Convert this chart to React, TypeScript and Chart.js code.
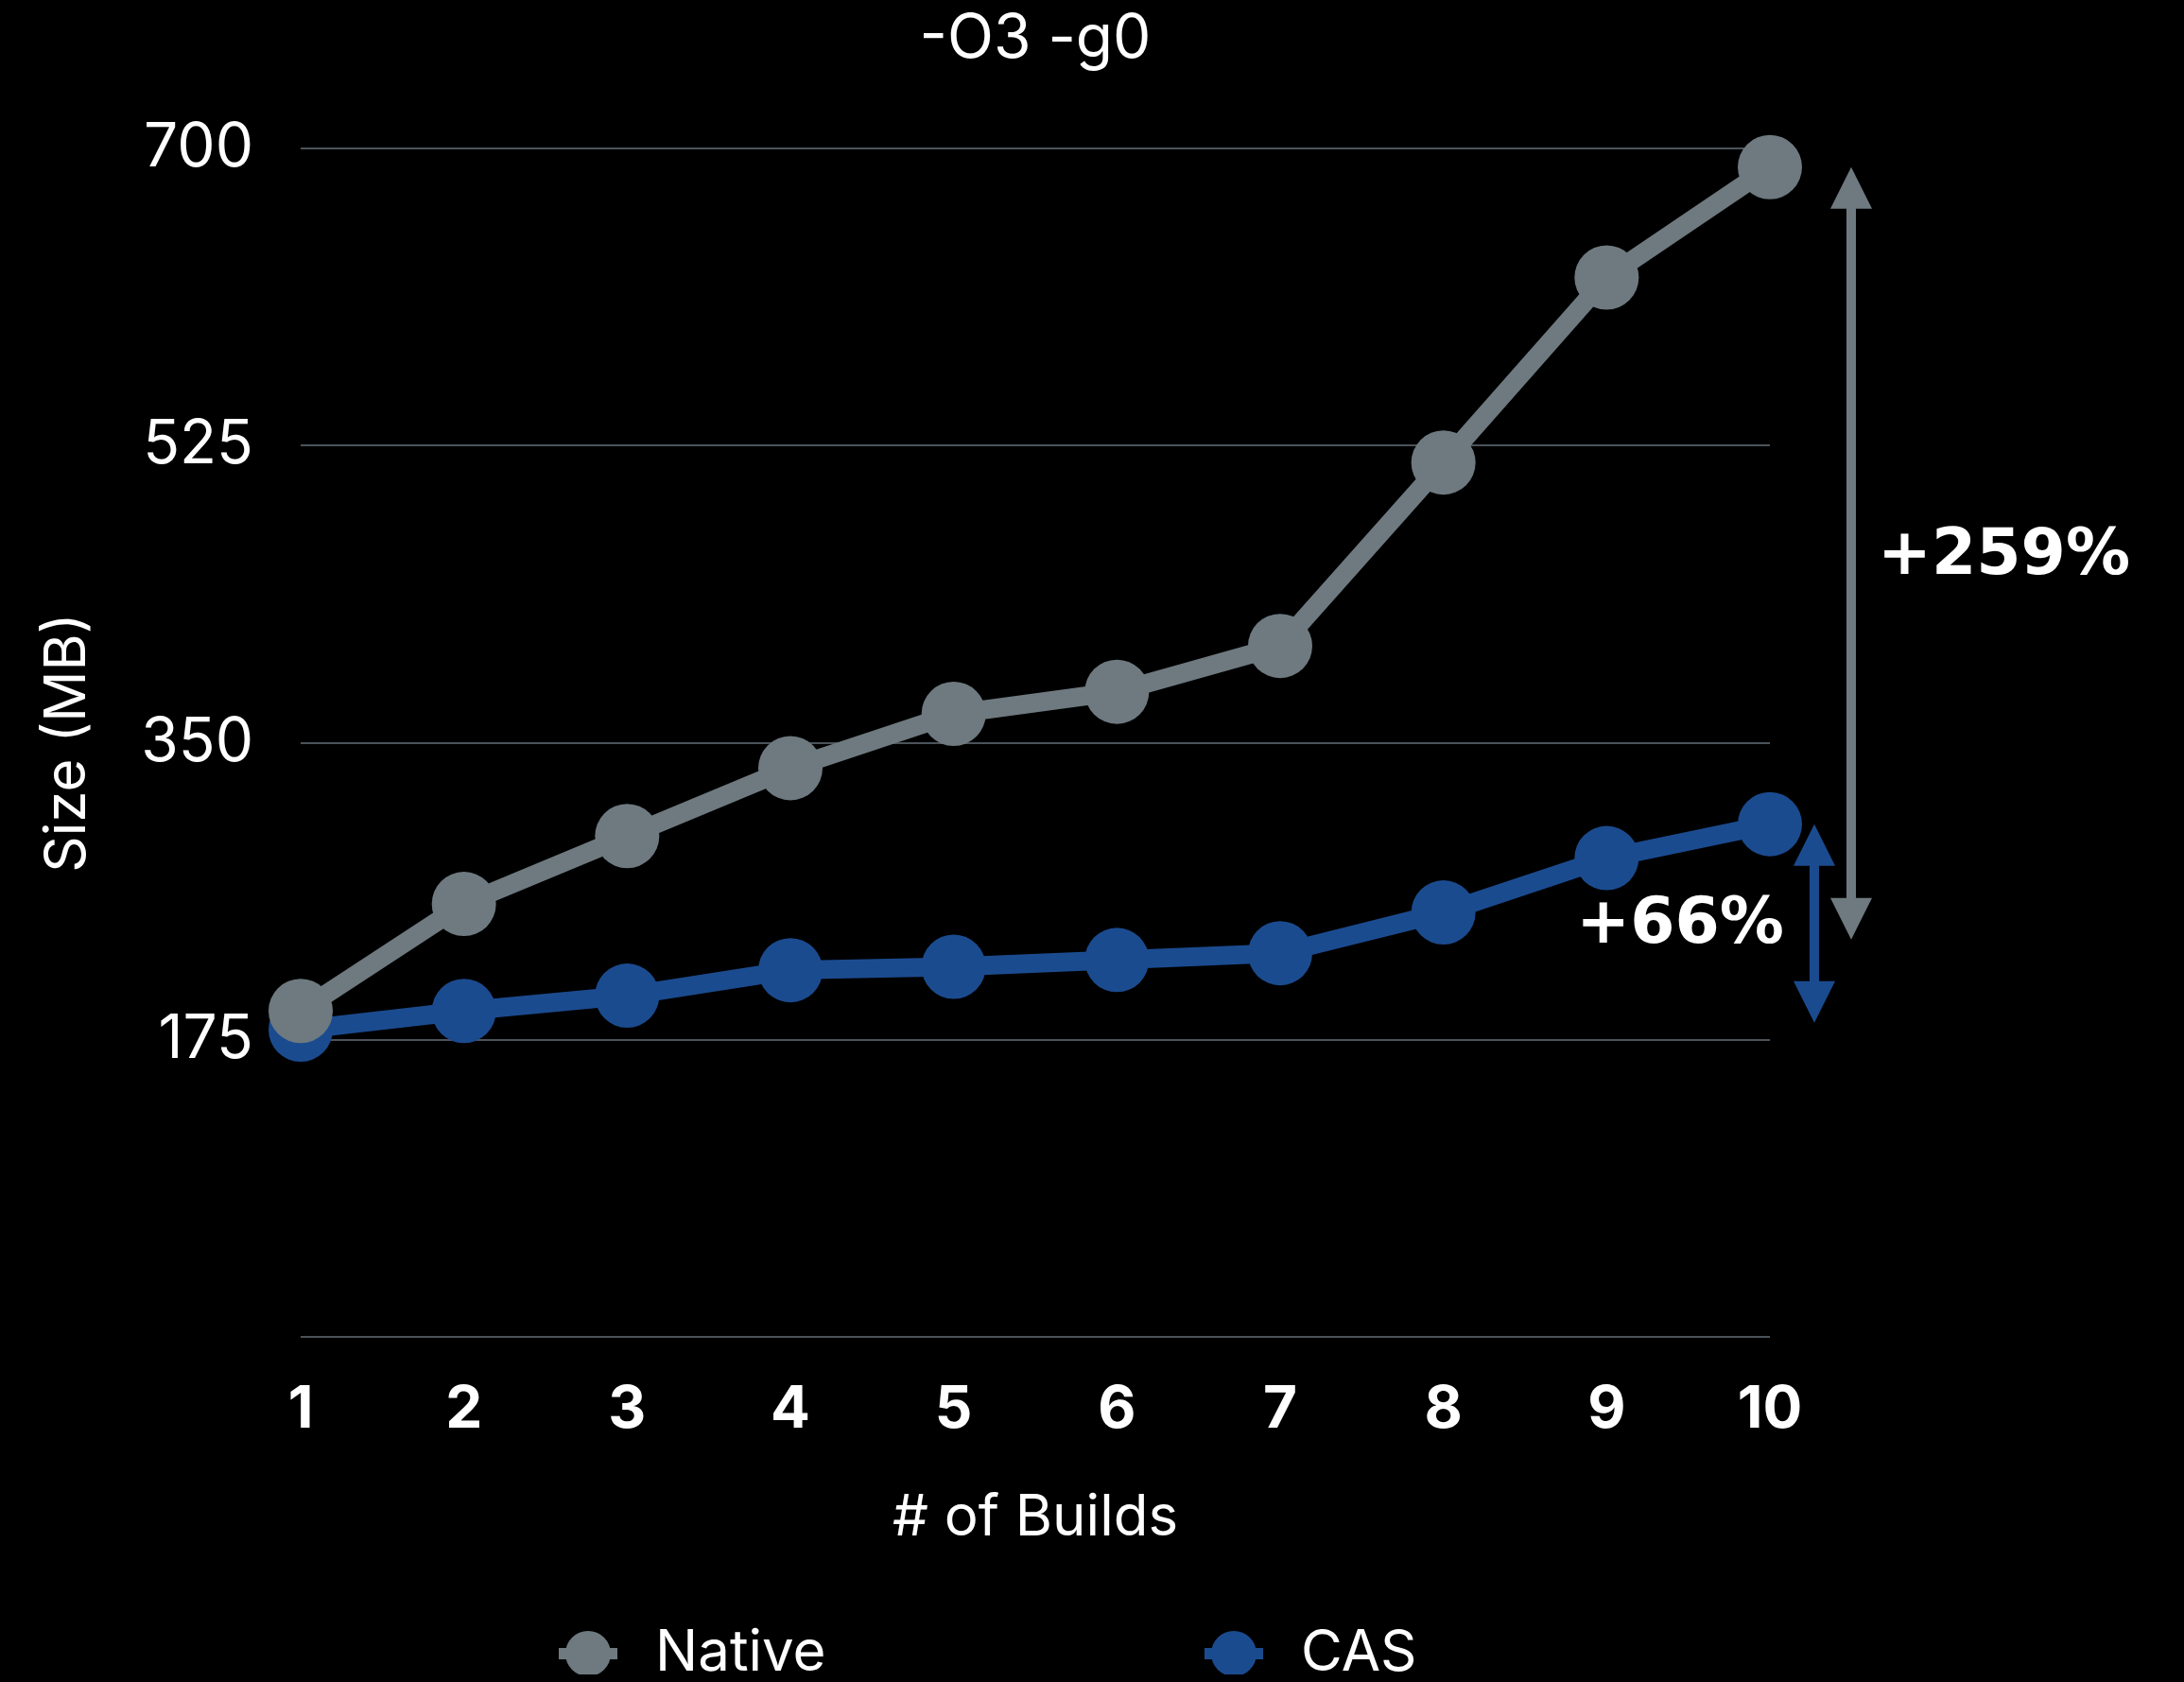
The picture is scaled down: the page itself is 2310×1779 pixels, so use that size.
import React, { useEffect, useRef } from 'react';
import { Chart, registerables } from 'chart.js';

Chart.register(...registerables);

// ---- data ----
const builds = ['1', '2', '3', '4', '5', '6', '7', '8', '9', '10'];
const nativeSizes = [192, 255, 295, 335, 367, 380, 407, 515, 624, 689];
const casSizes = [181, 192, 201, 216, 218, 222, 226, 250, 282, 302];
const seriesNames = ['Native', 'CAS'];
const seriesColors = ['#6e7a80', '#1b4b8f'];
const yTickValues = [0, 175, 350, 525, 700];

// growth annotations (arrow from -> to, in MB)
const growthFrom = [234, 185];
const growthTo = [689, 302];
const growthLabels = ['+259%', '+66%'];

const W = 2294;
const H = 1763;

const annotationPlugin = {
  id: 'growthArrows',
  afterDatasetsDraw(chart: any) {
    const { ctx, chartArea, scales } = chart;
    const y = scales.y;
    const arrowX = [chartArea.right + 86, chartArea.right + 47];
    const labelY = [459, 242];
    growthFrom.forEach((from, i) => {
      const x = arrowX[i];
      const yTop = y.getPixelForValue(growthTo[i]);
      const yBot = y.getPixelForValue(from);
      const hh = 44;
      const hw = 22;
      ctx.save();
      ctx.fillStyle = seriesColors[i];
      ctx.strokeStyle = seriesColors[i];
      ctx.lineWidth = 10;
      ctx.beginPath();
      ctx.moveTo(x, yTop + hh - 1);
      ctx.lineTo(x, yBot - hh + 1);
      ctx.stroke();
      ctx.beginPath();
      ctx.moveTo(x, yTop);
      ctx.lineTo(x - hw, yTop + hh);
      ctx.lineTo(x + hw, yTop + hh);
      ctx.closePath();
      ctx.fill();
      ctx.beginPath();
      ctx.moveTo(x, yBot);
      ctx.lineTo(x - hw, yBot - hh);
      ctx.lineTo(x + hw, yBot - hh);
      ctx.closePath();
      ctx.fill();

      ctx.fillStyle = '#ffffff';
      ctx.font = 'bold 68px "DejaVu Sans"';
      ctx.textBaseline = 'middle';
      if (i === 0) {
        ctx.textAlign = 'left';
        ctx.fillText(growthLabels[i], chartArea.right + 114, y.getPixelForValue(labelY[i]));
      } else {
        ctx.textAlign = 'right';
        ctx.fillText(growthLabels[i], chartArea.right + 15, y.getPixelForValue(labelY[i]));
      }
      ctx.restore();
    });
  },
};

const legendPlugin = {
  id: 'customLegend',
  afterDraw(chart: any) {
    const ctx = chart.ctx;
    const ly = 1741;
    const xs = [614, 1297];
    chart.data.datasets.forEach((ds: any, i: number) => {
      const x = xs[i];
      ctx.save();
      ctx.strokeStyle = ds.borderColor;
      ctx.lineWidth = 12;
      ctx.beginPath();
      ctx.moveTo(x - 31, ly);
      ctx.lineTo(x + 31, ly);
      ctx.stroke();
      ctx.fillStyle = ds.borderColor;
      ctx.beginPath();
      ctx.arc(x, ly, 24, 0, Math.PI * 2);
      ctx.fill();
      ctx.fillStyle = '#ffffff';
      ctx.font = '60px Inter';
      ctx.textAlign = 'left';
      ctx.textBaseline = 'middle';
      ctx.fillText(ds.label, x + 71, ly);
      ctx.restore();
    });
  },
};

export default function App() {
  const canvasRef = useRef<HTMLCanvasElement | null>(null);

  useEffect(() => {
    document.body.style.backgroundColor = '#000';
    let chart: Chart | null = null;
    let cancelled = false;
    const fontsReady = (document as any).fonts
      ? Promise.all([
          (document as any).fonts.load('64px Inter'),
          (document as any).fonts.load('bold 62px Inter'),
          (document as any).fonts.load('bold 68px "DejaVu Sans"'),
        ]).catch(() => null)
      : Promise.resolve(null);

    fontsReady.then(() => {
      if (cancelled || !canvasRef.current) return;
      chart = new Chart(canvasRef.current, {
        type: 'line',
        data: {
          labels: builds,
          datasets: [
            {
              label: seriesNames[0],
              data: nativeSizes,
              borderColor: seriesColors[0],
              backgroundColor: seriesColors[0],
              pointBackgroundColor: seriesColors[0],
              borderWidth: 20,
              pointRadius: 34,
              pointHoverRadius: 34,
              pointBorderWidth: 0,
              tension: 0,
              clip: false as any,
            },
            {
              label: seriesNames[1],
              data: casSizes,
              borderColor: seriesColors[1],
              backgroundColor: seriesColors[1],
              pointBackgroundColor: seriesColors[1],
              borderWidth: 20,
              pointRadius: 34,
              pointHoverRadius: 34,
              pointBorderWidth: 0,
              tension: 0,
              clip: false as any,
            },
          ],
        },
        options: {
          animation: false,
          responsive: false,
          events: [],
          layout: { padding: { top: 0, right: 430, bottom: 129, left: 0 } },
          plugins: {
            legend: { display: false },
            tooltip: { enabled: false },
            title: {
              display: true,
              text: '-O3 -g0',
              color: '#ffffff',
              fullSize: false,
              font: { family: 'Inter', size: 64, weight: 'normal', lineHeight: 1 },
              padding: { top: 2, bottom: 83 },
            },
          },
          scales: {
            x: {
              type: 'category',
              offset: false,
              grid: { display: false, drawTicks: false },
              border: { display: false },
              ticks: {
                color: '#ffffff',
                font: { family: 'Inter', size: 62, weight: 'bold' },
                padding: 40,
                maxRotation: 0,
                autoSkip: false,
              },
              title: {
                display: true,
                text: '# of Builds',
                color: '#ffffff',
                font: { family: 'Inter', size: 60, weight: 'normal' },
                padding: { top: 0, bottom: 0 },
              },
              afterFit: (s: any) => {
                s.height = 228;
              },
            },
            y: {
              min: yTickValues[0],
              max: yTickValues[yTickValues.length - 1],
              afterBuildTicks: (s: any) => {
                s.ticks = yTickValues.map((v) => ({ value: v }));
              },
              ticks: {
                color: '#ffffff',
                font: { family: 'Inter', size: 64, weight: 'normal' },
                padding: 50,
                callback: (v: any) => (Number(v) === 0 ? '' : String(v)),
              },
              grid: { color: '#4b5359', lineWidth: 2, drawTicks: false },
              border: { display: false },
              title: {
                display: true,
                text: 'Size (MB)',
                color: '#ffffff',
                font: { family: 'Inter', size: 60, weight: 'normal' },
                padding: { top: 28, bottom: 0 },
              },
              afterFit: (s: any) => {
                s.width = 310;
              },
            },
          },
        },
        plugins: [annotationPlugin, legendPlugin],
      } as any);
    });

    return () => {
      cancelled = true;
      if (chart) chart.destroy();
    };
  }, []);

  return (
    <div style={{ width: W, height: H, background: '#000' }}>
      <canvas ref={canvasRef} width={W} height={H} style={{ display: 'block', width: W, height: H }} />
    </div>
  );
}
